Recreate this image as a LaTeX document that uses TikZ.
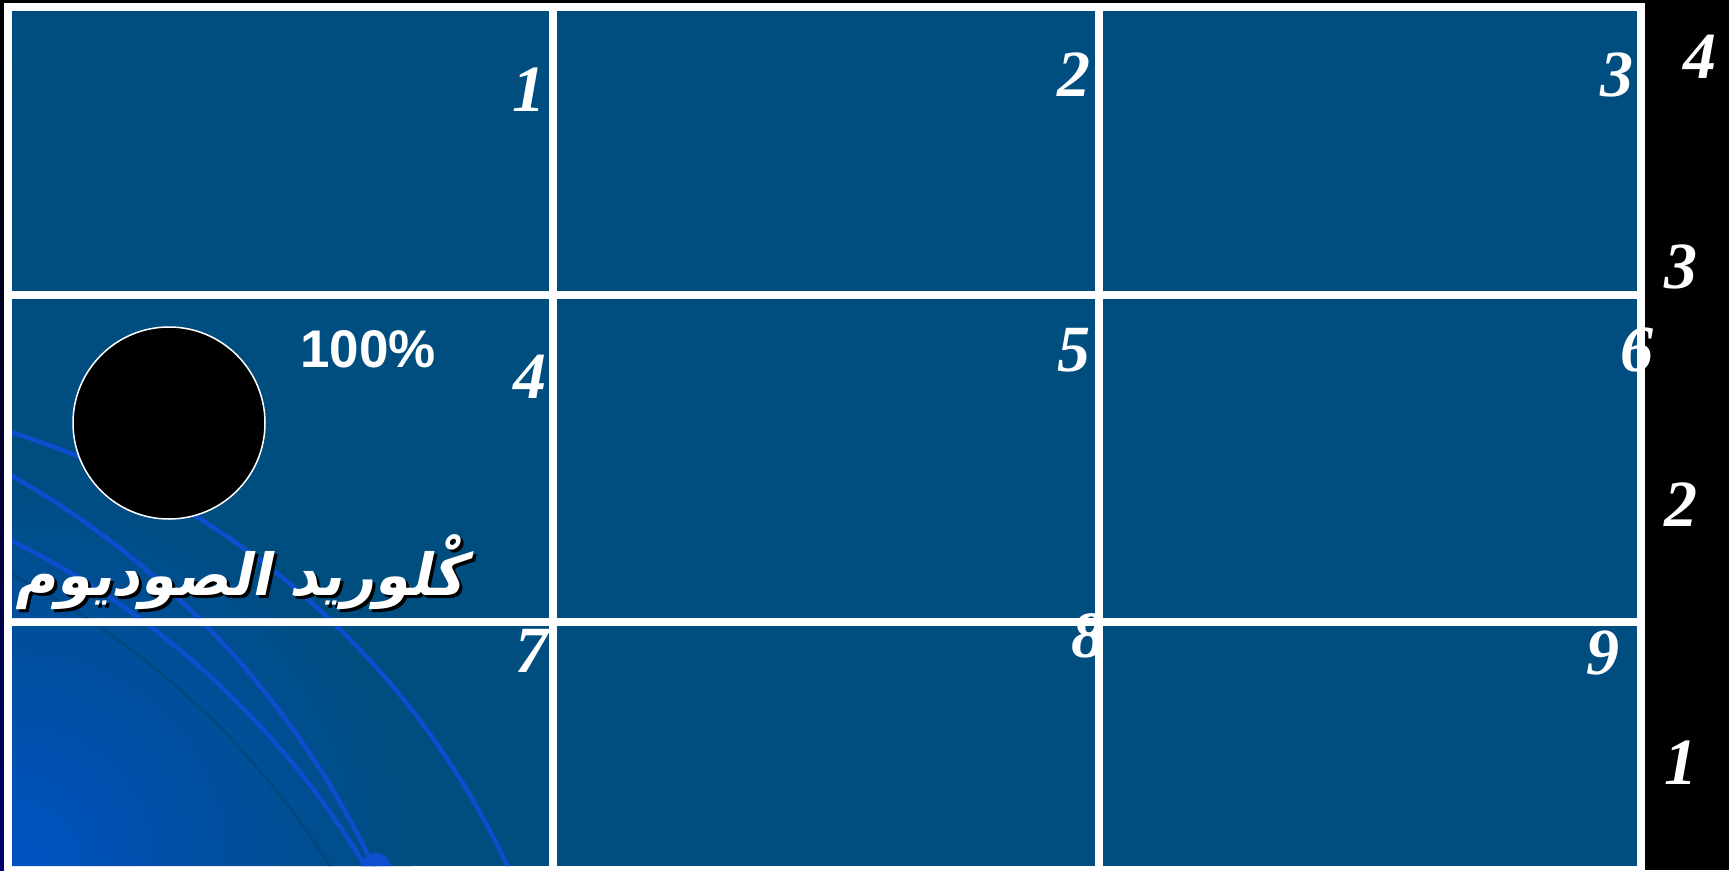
\documentclass[tikz,border=0pt]{standalone}
\usepackage{fontspec}
\TeXXeTstate=1
\newfontfamily\arabicfont[Script=Arabic]{DejaVu Sans}
\newfontfamily\numfont{Liberation Serif}
\newfontfamily\pctfont{Liberation Sans}
\definecolor{cellblue}{RGB}{0,77,128}
\definecolor{arcblue}{RGB}{12,78,205}
\definecolor{cornerblue}{RGB}{0,82,195}
\definecolor{darkarc}{RGB}{0,66,108}
\definecolor{stripnavy}{RGB}{0,0,110}
\begin{document}
\begin{tikzpicture}[x=1pt,y=-1pt,
  num/.style={font=\numfont\bfseries\itshape\fontsize{66}{66}\selectfont, text=white, inner sep=0pt},
  cellbox/.style={fill=cellblue},
  arcline/.style={draw=arcblue, line width=4.5pt},
  arabictext/.style={font=\arabicfont\bfseries\fontsize{58}{66}\selectfont, inner sep=0pt, xscale=0.96, xslant=0.22}
]
\useasboundingbox (0,0) rectangle (1729,870);
\fill[black] (0,0) rectangle (1729,870);
\shade[top color=black, bottom color=stripnavy, middle color=black!60!stripnavy] (0,0) rectangle (4,870);
% white frame
\fill[white] (4,3) rectangle (1645,870);
% cells
\fill[cellbox] (12,11) rectangle (549,291);
\fill[cellbox] (557,11) rectangle (1095,291);
\fill[cellbox] (1103,11) rectangle (1637,291);
\fill[cellbox] (12,299) rectangle (549,618);
\fill[cellbox] (557,299) rectangle (1095,618);
\fill[cellbox] (1103,299) rectangle (1637,618);
\fill[cellbox] (12,626) rectangle (549,866);
\fill[cellbox] (557,626) rectangle (1095,866);
\fill[cellbox] (1103,626) rectangle (1637,866);
% decoration in the left column
\begin{scope}
  \clip (12,299) rectangle (549,618) (12,626) rectangle (549,866);
  \shade[inner color=cornerblue, outer color=cellblue] (12,866) circle (400);
  \draw[draw=darkarc, line width=3pt, opacity=0.5] (-360,1300) circle (815);
  \draw[arcline] (-230,1209) circle (813);
  \draw[arcline] (-423,1241) circle (880);
  \draw[arcline] (-360,1300) circle (845);
  \fill[arcblue] (376,868) circle (15);
\end{scope}
% disc
\node[circle, minimum size=192pt, inner sep=0pt, fill=black, draw=white, line width=1.5pt] (disc) at (169,423) {};
\node[font=\pctfont\bfseries\fontsize{53}{53}\selectfont, text=white, inner sep=0pt] (pct) at (368,349) {100\%};
\node[arabictext, text=black] (naclshadow) at (248,575) {\beginR كْلوريد الصوديوم\endR};
\node[arabictext, text=white] (nacl) at (245,572) {\beginR كْلوريد الصوديوم\endR};
% cell numbers
\node[num] (n1) at (529,90) {1};
\node[num] (n2) at (1074,75) {2};
\node[num] (n3) at (1617,75) {3};
\node[num] (n4) at (530,377) {4};
\node[num] (n5) at (1074,350) {5};
\node[num] (n6) at (1637,350) {6};
\node[num] (n7) at (532,651) {7};
\node[num] (n8) at (1088,636) {8};
\node[num] (n9) at (1603,653) {9};
% right column numbers
\node[num] (r4) at (1700,57) {4};
\node[num] (r3) at (1681,267) {3};
\node[num] (r2) at (1681,505) {2};
\node[num] (r1) at (1681,763) {1};
\end{tikzpicture}
\end{document}
